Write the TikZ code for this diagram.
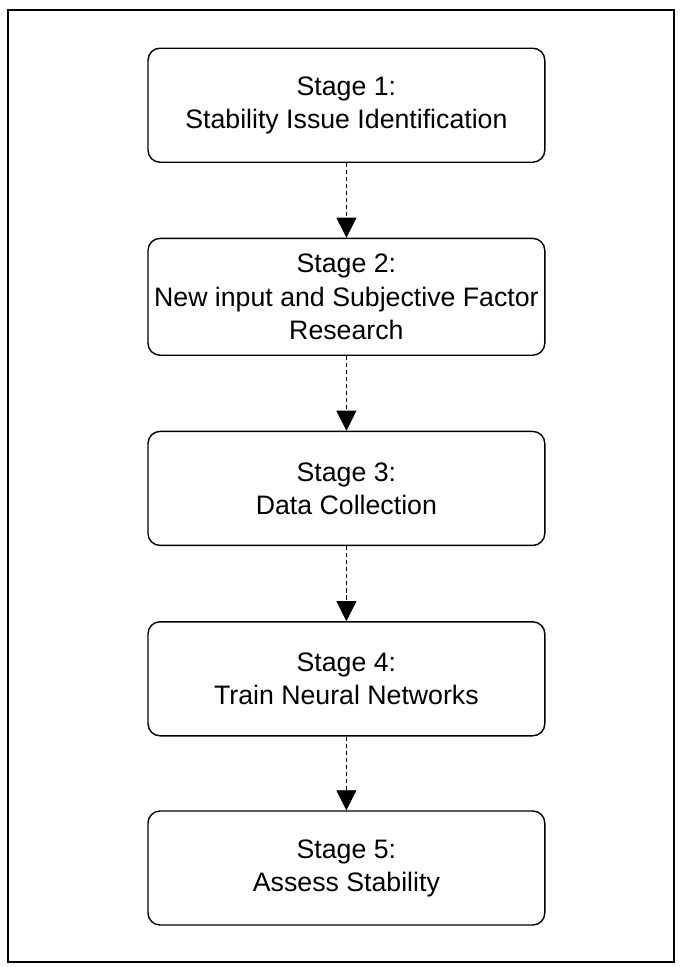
\documentclass[tikz,border=0pt]{standalone}
\usepackage{fontspec}
\setmainfont{Liberation Sans}
\usetikzlibrary{arrows.meta}
\begin{document}
\begin{tikzpicture}[
            stage/.style = {draw, line width = 1pt, rounded corners = 3mm, align = center,
                minimum width = 9.92cm, minimum height = 2.85cm, inner sep = 0mm,
                font = \fontsize{19}{23.5}\selectfont},
            arr/.style = {draw, line width = 0.5pt, densely dashed,
                -{Triangle[length = 5mm, width = 5mm]}},
            frame/.style = {draw, line width = 1.6pt},
        ]
        \useasboundingbox (0,0) rectangle (17.025,-24.175);
        \path[frame] (0.2,-0.25) rectangle (16.85,-24.05);

        \node (s1) [stage] at (8.66,-2.63) {Stage 1:\\Stability Issue Identification};
        \node (s2) [stage, minimum height = 2.92cm] at (8.66,-7.42) {Stage 2:\\New input and Subjective Factor\\Research};
        \node (s3) [stage] at (8.66,-12.21) {Stage 3:\\Data Collection};
        \node (s4) [stage] at (8.66,-16.97) {Stage 4:\\Train Neural Networks};
        \node (s5) [stage] at (8.66,-21.70) {Stage 5:\\Assess Stability};

        \path[arr] (s1) -- (s2);
        \path[arr] (s2) -- (s3);
        \path[arr] (s3) -- (s4);
        \path[arr] (s4) -- (s5);
    \end{tikzpicture}
\end{document}
